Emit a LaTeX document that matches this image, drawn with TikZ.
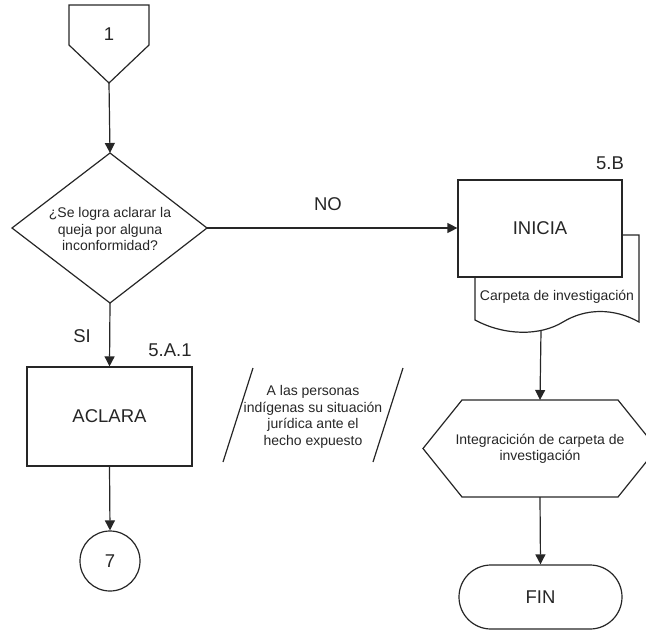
\documentclass[tikz,border=0pt]{standalone}
\usepackage{fontspec}
\setmainfont{Liberation Sans}
\usetikzlibrary{arrows.meta,shapes.misc}
\definecolor{ink}{HTML}{262626}
\begin{document}
\begin{tikzpicture}[x=1pt,y=-1pt,
  line/.style={line width=1.2pt, draw=ink},
  flow/.style={line, -{Triangle[length=10pt,width=10pt]}},
  big/.style={font=\fontsize{18.5}{22}\selectfont, text=ink, inner sep=0pt},
  small/.style={font=\fontsize{14}{16.5}\selectfont, text=ink, align=center, inner sep=0pt},
  box/.style={line, fill=white, rectangle, inner sep=0pt},
]
\useasboundingbox (0,0) rectangle (646,630);
\clip (0,0) rectangle (646,630);

% off-page connector "1"
\draw[line] (69,5) -- (149,5) -- (149,45) -- (109,83) -- (69,45) -- cycle;
\node[big] (c1) at (109,34) {1};
\coordinate (c1tip) at (109,83);

% decision
\draw[line] (110,153) -- (207,228) -- (110,303) -- (12,228) -- cycle;
\coordinate (qtop) at (110,153);
\coordinate (qright) at (207,228);
\coordinate (qbot) at (110,303);
\node[small] (q) at (110,229) {¿Se logra aclarar la\\queja por alguna\\inconformidad?};

% process ACLARA
\node[box, minimum width=165pt, minimum height=99pt, big] (aclara) at (109.5,416.5) {ACLARA};
\node[big, anchor=base] (lblA) at (170,356) {5.A.1};
\node[big, anchor=base] (si) at (82,342) {SI};

% connector "7"
\node[line, circle, minimum size=60pt, inner sep=0pt, big] (c7) at (110,561) {7};

% annotation
\draw[line] (253,368) -- (223,462);
\draw[line] (403,368) -- (373,462);
\node[small] (note) at (313,417) {A las personas\\indígenas su situación\\jurídica ante el\\hecho expuesto};

% document behind INICIA
\draw[line, fill=white] (475,235) -- (639,235) -- (639,322)
  .. controls (614,308) and (586,308) .. (563,322)
  .. controls (540,336) and (505,336) .. (475,320) -- cycle;
\coordinate (docb) at (541,331);
\node[small] (doc) at (557,297) {Carpeta de investigación};

% process INICIA
\node[box, minimum width=164pt, minimum height=97pt, big] (inicia) at (540,228.5) {INICIA};
\node[big, anchor=base] (lblB) at (610,169) {5.B};
\node[big, anchor=base] (no) at (328,210) {NO};

% preparation hexagon
\draw[line] (423,448.5) -- (462,400) -- (618,400) -- (657,448.5) -- (618,497) -- (462,497) -- cycle;
\coordinate (hextop) at (540,400);
\coordinate (hexbot) at (540,497);
\node[small] (hex) at (540,449) {Integracición de carpeta de\\investigación};

% terminator
\node[line, rounded rectangle, minimum width=163pt, minimum height=64pt, inner sep=0pt, big] (fin) at (540.5,597) {FIN};

% connectors
\draw[flow] (c1tip) -- (qtop);
\draw[flow] (qright) -- (qright -| inicia.west);
\draw[flow] (qbot) -- (aclara.north);
\draw[flow] (aclara.south) -- (c7.north);
\draw[flow] (docb) -- (hextop);
\draw[flow] (hexbot) -- (fin.north);
\end{tikzpicture}
\end{document}
